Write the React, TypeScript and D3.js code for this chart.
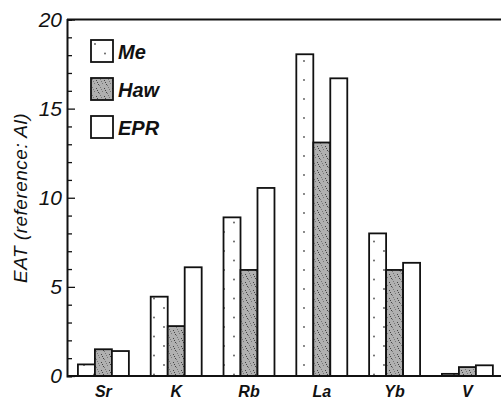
import React, { useEffect, useRef } from 'react';
import * as d3 from 'd3';

const categories = ['Sr', 'K', 'Rb', 'La', 'Yb', 'V'];
const meValues = [0.65, 4.45, 8.9, 18.05, 8.0, 0.12];
const hawValues = [1.5, 2.8, 5.95, 13.1, 5.95, 0.5];
const eprValues = [1.4, 6.1, 10.55, 16.7, 6.35, 0.6];
const seriesNames = ['Me', 'Haw', 'EPR'];
const yTicks = [0, 5, 10, 15, 20];

const FONT = '"Liberation Sans", Arial, Helvetica, sans-serif';

const App = () => {
  const svgRef = useRef<SVGSVGElement>(null);

  useEffect(() => {
    const width = 501;
    const height = 402;
    const left = 67;
    const top = 19.5;
    const bottom = 376;

    const svg = d3.select(svgRef.current)
      .attr('width', width)
      .attr('height', height);
    svg.selectAll('*').remove();

    // fill patterns
    const defs = svg.append('defs');
    const me = defs.append('pattern')
      .attr('id', 'pat-me')
      .attr('patternUnits', 'userSpaceOnUse')
      .attr('width', 20)
      .attr('height', 19);
    me.append('rect').attr('width', 20).attr('height', 19).attr('fill', '#fff');
    me.append('circle').attr('cx', 4).attr('cy', 4).attr('r', 0.9).attr('fill', '#555');
    me.append('circle').attr('cx', 14).attr('cy', 13.5).attr('r', 0.9).attr('fill', '#555');

    const haw = defs.append('pattern')
      .attr('id', 'pat-haw')
      .attr('patternUnits', 'userSpaceOnUse')
      .attr('width', 8)
      .attr('height', 8);
    haw.append('rect').attr('width', 8).attr('height', 8).attr('fill', '#b0b0b0');
    [[1, 1], [5, 2], [3, 5], [7, 6], [0, 7], [6, 4], [2, 3]].forEach(([cx, cy], i) => {
      haw.append('rect')
        .attr('x', cx).attr('y', cy)
        .attr('width', 1).attr('height', 1)
        .attr('fill', i % 2 ? '#444' : '#777');
    });

    const fills = ['url(#pat-me)', 'url(#pat-haw)', '#fff'];

    // scales
    const x = d3.scaleBand()
      .domain(categories)
      .range([left, left + 6 * 72.8])
      .paddingInner(0.3)
      .paddingOuter(0.15);

    const xs = d3.scaleBand()
      .domain(seriesNames)
      .range([0, x.bandwidth()]);

    const y = d3.scaleLinear()
      .domain([0, 20])
      .range([bottom, top]);

    // bars
    const series = [meValues, hawValues, eprValues];
    series.forEach((vals, si) => {
      svg.append('g')
        .selectAll('rect')
        .data(vals)
        .join('rect')
        .attr('x', (d, i) => x(categories[i]) + xs(seriesNames[si]))
        .attr('y', d => y(d))
        .attr('width', xs.bandwidth())
        .attr('height', d => bottom - y(d))
        .attr('fill', fills[si])
        .attr('stroke', '#111')
        .attr('stroke-width', 1.8);
    });

    // frame lines
    svg.append('line')
      .attr('x1', left).attr('x2', width)
      .attr('y1', top).attr('y2', top)
      .attr('stroke', '#111').attr('stroke-width', 2);
    svg.append('line')
      .attr('x1', left).attr('x2', width)
      .attr('y1', bottom).attr('y2', bottom)
      .attr('stroke', '#111').attr('stroke-width', 2);

    // y axis, ticks inward
    const yAxis = svg.append('g')
      .attr('transform', `translate(${left},0)`)
      .call(d3.axisRight(y).ticks(20).tickSize(5).tickFormat(() => ''))
      .call(g => g.select('.domain').attr('stroke-width', 2).attr('stroke', '#111'))
      .call(g => g.selectAll('.tick line')
        .attr('stroke', '#111')
        .attr('stroke-width', 1.3)
        .attr('x2', d => (d % 5 === 0 ? 8 : 5)));
    yAxis.selectAll('.tick text').remove();

    svg.append('g')
      .selectAll('text')
      .data(yTicks)
      .join('text')
      .attr('x', left - 5)
      .attr('y', d => y(d) + 7)
      .attr('text-anchor', 'end')
      .style('font-family', FONT)
      .style('font-style', 'italic')
      .style('font-size', '21px')
      .style('fill', '#111')
      .text(d => d);

    // x labels
    svg.append('g')
      .selectAll('text')
      .data(categories)
      .join('text')
      .attr('x', d => x(d) + x.bandwidth() / 2)
      .attr('y', 397)
      .attr('text-anchor', 'middle')
      .style('font-family', FONT)
      .style('font-style', 'italic')
      .style('font-weight', 'bold')
      .style('font-size', '16px')
      .style('fill', '#111')
      .text(d => d);

    // y title
    svg.append('text')
      .attr('transform', 'translate(27,198) rotate(-90)')
      .attr('text-anchor', 'middle')
      .style('font-family', FONT)
      .style('font-style', 'italic')
      .style('font-size', '19px')
      .style('letter-spacing', '0.5px')
      .style('fill', '#111')
      .text('EAT (reference:  Al)');

    // legend
    const legend = svg.append('g')
      .selectAll('g')
      .data(seriesNames)
      .join('g')
      .attr('transform', (d, i) => `translate(91,${40 + i * 38})`);
    legend.append('rect')
      .attr('width', 22)
      .attr('height', 22)
      .attr('fill', (d, i) => fills[i])
      .attr('stroke', '#111')
      .attr('stroke-width', 1.8);
    legend.append('text')
      .attr('x', 27)
      .attr('y', 19)
      .style('font-family', FONT)
      .style('font-style', 'italic')
      .style('font-weight', 'bold')
      .style('font-size', '20px')
      .style('fill', '#111')
      .text(d => d);
  }, []);

  return (
    <div style={{ position: 'absolute', left: 0, top: 0, background: '#fff' }}>
      <svg ref={svgRef} style={{ display: 'block' }}></svg>
    </div>
  );
};

export default App;
